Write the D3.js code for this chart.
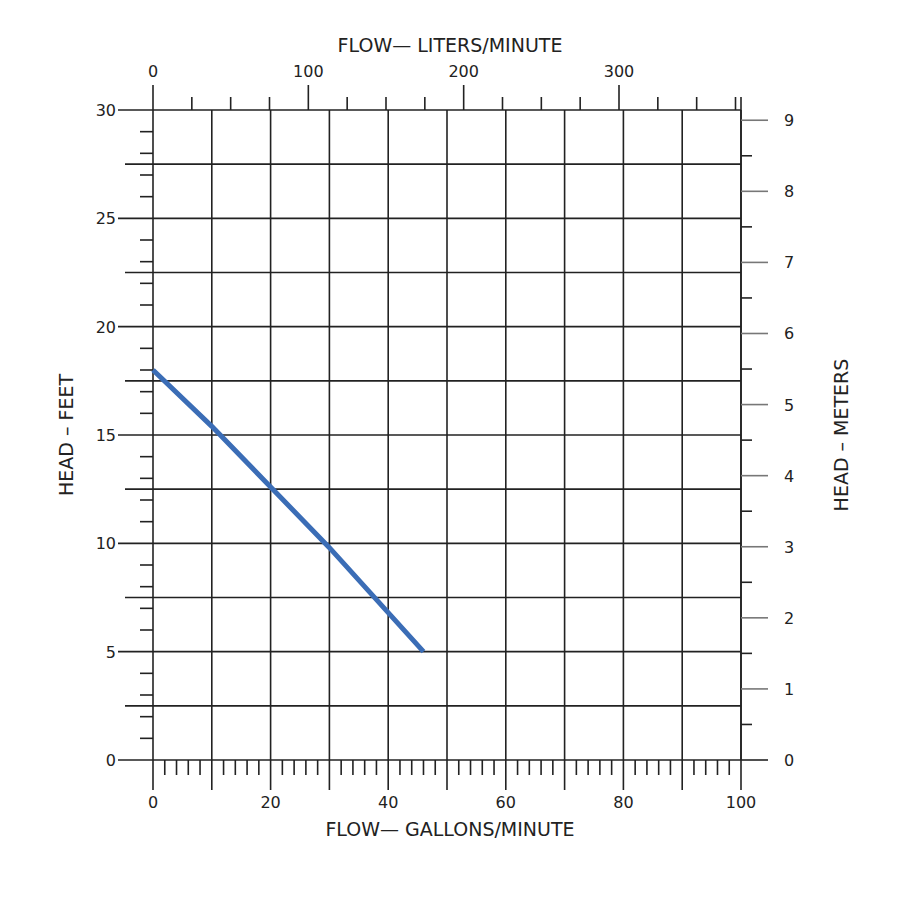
<!DOCTYPE html><html><head><meta charset="utf-8"><script src="https://cdn.jsdelivr.net/npm/d3@7"></script>
<style>body{margin:0;background:#fff}text{font-family:"DejaVu Sans",sans-serif;fill:#222}</style></head><body><svg id="c" width="900" height="900"></svg><script>
const flowGpm=[0,10,20,30,40,46];
const headFt=[18,15.4,12.6,9.8,6.8,5];
const gpmTicks=[0,20,40,60,80,100];
const ftTicks=[0,5,10,15,20,25,30];
const lpmTicks=[0,100,200,300];
const mTicks=[0,1,2,3,4,5,6,7,8,9];
const svg=d3.select("#c");
const L=153,R=741,T=110,B=760;
const x=d3.scaleLinear().domain([0,100]).range([L,R]);
const y=d3.scaleLinear().domain([0,30]).range([B,T]);
const xl=d3.scaleLinear().domain([0,378.54]).range([L,R]);
const ym=d3.scaleLinear().domain([0,30/3.28084]).range([B,T]);
const g=svg.append("g").attr("stroke","#222").attr("stroke-width",1.6);
d3.range(0,30.01,2.5).forEach(v=>g.append("line").attr("x1",v%5===0?118:125).attr("x2",R).attr("y1",y(v)).attr("y2",y(v)));
d3.range(0,100.01,10).forEach(v=>g.append("line").attr("x1",x(v)).attr("x2",x(v)).attr("y1",T).attr("y2",790));
d3.range(0,100,2).filter(v=>v%10!==0).forEach(v=>g.append("line").attr("x1",x(v)).attr("x2",x(v)).attr("y1",B).attr("y2",B+15));
d3.range(0,30,1).filter(v=>v%5!==0).forEach(v=>g.append("line").attr("x1",140).attr("x2",L).attr("y1",y(v)).attr("y2",y(v)));
d3.range(0,376,25).forEach(v=>g.append("line").attr("x1",xl(v)).attr("x2",xl(v)).attr("y1",T).attr("y2",v%100===0?85:97));
g.append("line").attr("x1",R).attr("x2",R).attr("y1",97).attr("y2",B);
d3.range(0.5,9.01,0.5).forEach(v=>{const yy=ym(v);if(v%1===0)g.append("line").attr("x1",R).attr("x2",768).attr("y1",yy).attr("y2",yy).attr("stroke","#777");else g.append("line").attr("x1",R).attr("x2",752).attr("y1",yy).attr("y2",yy);});
g.append("line").attr("x1",R).attr("x2",768).attr("y1",B).attr("y2",B);
const t=svg.append("g").attr("font-size",16);
gpmTicks.forEach(v=>t.append("text").attr("x",x(v)).attr("y",808).attr("text-anchor","middle").text(v));
ftTicks.forEach(v=>t.append("text").attr("x",116).attr("y",y(v)+6).attr("text-anchor","end").text(v));
lpmTicks.forEach(v=>t.append("text").attr("x",xl(v)).attr("y",77).attr("text-anchor","middle").text(v));
mTicks.forEach(v=>t.append("text").attr("x",784).attr("y",ym(v)+6).text(v));
t.append("text").attr("x",450).attr("y",836).attr("text-anchor","middle").attr("font-size",19).text("FLOW—  GALLONS/MINUTE");
t.append("text").attr("x",450).attr("y",52).attr("text-anchor","middle").attr("font-size",19).text("FLOW—  LITERS/MINUTE");
t.append("text").attr("transform","translate(73,435) rotate(-90)").attr("text-anchor","middle").attr("font-size",19).text("HEAD  –  FEET");
t.append("text").attr("transform","translate(848,435) rotate(-90)").attr("text-anchor","middle").attr("font-size",19).text("HEAD  –  METERS");
svg.append("path").datum(flowGpm.map((f,i)=>[f,headFt[i]])).attr("fill","none").attr("stroke","#3b6db6").attr("stroke-width",5)
.attr("d",d3.line().x(d=>x(d[0])).y(d=>y(d[1])));
</script></body></html>
